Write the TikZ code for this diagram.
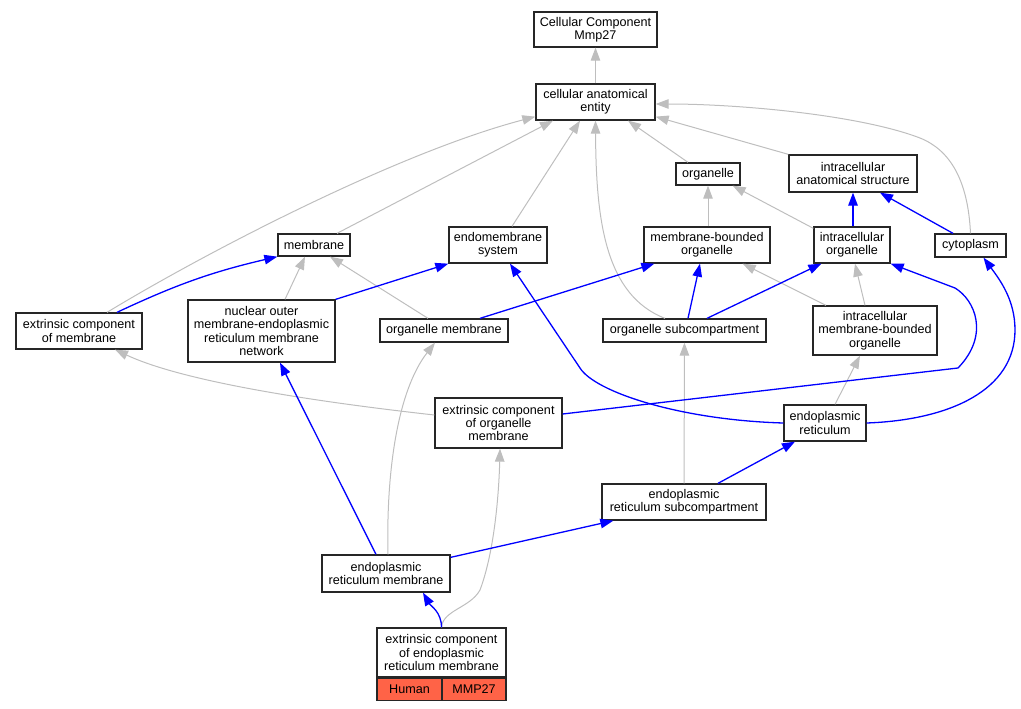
\documentclass[tikz,border=0pt]{standalone}
\usepackage{fontspec}
\setmainfont{Liberation Sans}
\usepackage{xcolor}
\usepackage{tikz}
\usetikzlibrary{positioning, arrows.meta, calc}

\definecolor{isagray}{RGB}{190,190,190}
\definecolor{partblue}{RGB}{0,0,255}
\definecolor{genered}{RGB}{255,99,71}

\begin{document}
\begin{tikzpicture}[x=1pt, y=-1pt,
    term/.style={rectangle, draw=black!85, line width=1.3pt, align=center, inner sep=0pt,
                 font=\fontsize{12.6}{13.3}\selectfont},
    isa/.style={-{Triangle[length=13pt, width=9.5pt]}, line width=1pt, isagray},
    partof/.style={-{Triangle[length=13pt, width=9.5pt]}, line width=1.3pt, partblue}
  ]
  \useasboundingbox (0,0) rectangle (1021,709);
  \node[term, minimum width=123pt, minimum height=35pt] (top) at (595.5,29.5) {Cellular Component\\Mmp27};
  \node[term, minimum width=119pt, minimum height=36pt] (cae) at (595.5,102) {cellular anatomical\\entity};
  \node[term, minimum width=64pt, minimum height=22pt] (organelle) at (708,174) {organelle};
  \node[term, minimum width=128pt, minimum height=37pt] (ias) at (853,173.5) {intracellular\\anatomical structure};
  \node[term, minimum width=72pt, minimum height=22pt] (membrane) at (314,245) {membrane};
  \node[term, minimum width=98pt, minimum height=36pt] (ems) at (498,245) {endomembrane\\system};
  \node[term, minimum width=126pt, minimum height=36pt] (mbo) at (707,245) {membrane-bounded\\organelle};
  \node[term, minimum width=76pt, minimum height=36pt] (io) at (852,245) {intracellular\\organelle};
  \node[term, minimum width=71pt, minimum height=23pt] (cyto) at (970.5,245.5) {cytoplasm};
  \node[term, minimum width=126pt, minimum height=36pt] (ecm) at (79,331) {extrinsic component\\of membrane};
  \node[term, minimum width=147pt, minimum height=62pt] (nuc) at (261.5,331) {nuclear outer\\membrane-endoplasmic\\reticulum membrane\\network};
  \node[term, minimum width=128pt, minimum height=23pt] (om) at (444,330.5) {organelle membrane};
  \node[term, minimum width=163pt, minimum height=23pt] (osc) at (684.5,330.5) {organelle subcompartment};
  \node[term, minimum width=124pt, minimum height=49pt] (imbo) at (875,330.5) {intracellular\\membrane-bounded\\organelle};
  \node[term, minimum width=127pt, minimum height=50pt] (ecom) at (498.5,423) {extrinsic component\\of organelle\\membrane};
  \node[term, minimum width=82pt, minimum height=36pt] (er) at (825,423) {endoplasmic\\reticulum};
  \node[term, minimum width=164pt, minimum height=36pt] (ers) at (684,502) {endoplasmic\\reticulum subcompartment};
  \node[term, minimum width=128pt, minimum height=37pt] (erm) at (386,573.5) {endoplasmic\\reticulum membrane};
  \node[term, minimum width=129pt, minimum height=49pt] (leaf) at (441.5,652.5) {extrinsic component\\of endoplasmic\\reticulum membrane};
  \node[term, fill=genered, minimum width=65pt, minimum height=22pt, below=0pt of leaf.south west, anchor=north west] (human) {Human};
  \node[term, fill=genered, minimum width=64pt, minimum height=22pt, below=0pt of leaf.south east, anchor=north east] (mmp) {MMP27};
  % is_a
  \draw[isa] (cae) -- (top);
  \draw[isa] ([xshift=28pt]ecm.north) .. controls (210,250) and (400,152) .. ([yshift=4pt]cae.south west);
  \draw[isa] ([xshift=23pt]membrane.north) -- ([xshift=-42.5pt]cae.south);
  \draw[isa] ([xshift=14pt]ems.north) -- ([xshift=-15.5pt]cae.south);
  \draw[isa] ([xshift=-19.5pt]osc.north) .. controls (605,295) and (596,220) .. (cae.south);
  \draw[isa] ([xshift=-20pt]organelle.north) -- ([xshift=32.5pt]cae.south);
  \draw[isa] (ias.north west) -- ([yshift=4pt]cae.south east);
  \draw[isa] (cyto.north) .. controls (968,180) and (950,150) .. (920,138) .. controls (860,115) and (740,104) .. ([yshift=-2pt]cae.east);
  \draw[isa] ([xshift=23.5pt]nuc.north) -- ([xshift=-9pt]membrane.south);
  \draw[isa] ([xshift=-16pt]om.north) -- ([xshift=16pt]membrane.south);
  \draw[isa] ([xshift=1pt]mbo.north) -- (organelle.south);
  \draw[isa] ([yshift=-2pt]io.north west) -- ([xshift=-8pt]organelle.south east);
  \draw[isa] ([xshift=-49pt]imbo.north) -- ([xshift=-28pt]mbo.south east);
  \draw[isa] ([xshift=-10pt]imbo.north) -- ([xshift=3pt]io.south);
  \draw[isa] ([yshift=8pt]ecom.west) .. controls (300,400) and (180,380) .. ([xshift=36pt]ecm.south);
  \draw[isa] ([xshift=2pt]erm.north) .. controls (386,470) and (398,390) .. ([xshift=-9pt]om.south);
  \draw[isa] (leaf.north) .. controls (443,610) and (470,608) .. (480,590) .. controls (495,550) and (499,490) .. ([xshift=1.5pt]ecom.south);
  \draw[isa] (ers) -- (osc);
  \draw[isa] ([xshift=10pt]er.north) -- ([xshift=-15pt]imbo.south);
  % part_of
  \draw[partof] ([xshift=38pt]ecm.north) to[bend left=6] (membrane.south west);
  \draw[partof] (nuc.north east) -- (ems.south west);
  \draw[partof] ([xshift=36pt]om.north) -- ([xshift=11pt]mbo.south west);
  \draw[partof] ([xshift=3.5pt]osc.north) -- ([xshift=-7pt]mbo.south);
  \draw[partof] ([xshift=22.5pt]osc.north) -- ([xshift=8pt]io.south west);
  \draw[partof] ([xshift=1pt]io.north) -- (ias.south);
  \draw[partof] ([xshift=-17.5pt]cyto.north) -- ([xshift=27pt]ias.south);
  \draw[partof] (er.west) .. controls (680,420) and (595,392) .. (580,368) -- ([xshift=12pt]ems.south);
  \draw[partof] ([yshift=9pt]ecom.east) -- (958,368) .. controls (990,335) and (975,300) .. (955,288) -- (io.south east);
  \draw[partof] (er.east) .. controls (950,420) and (1015,390) .. (1015,330) .. controls (1015,300) and (1000,280) .. ([xshift=13pt]cyto.south);
  \draw[partof] ([xshift=34pt]ers.north) -- ([xshift=-30pt]er.south);
  \draw[partof] ([yshift=-3pt]erm.north east) -- ([xshift=12pt]ers.south west);
  \draw[partof] ([xshift=-10pt]erm.north) -- ([xshift=18.5pt]nuc.south);
  \draw[partof] (leaf.north) to[out=90, in=-60] ([xshift=37pt]erm.south);
\end{tikzpicture}
\end{document}
